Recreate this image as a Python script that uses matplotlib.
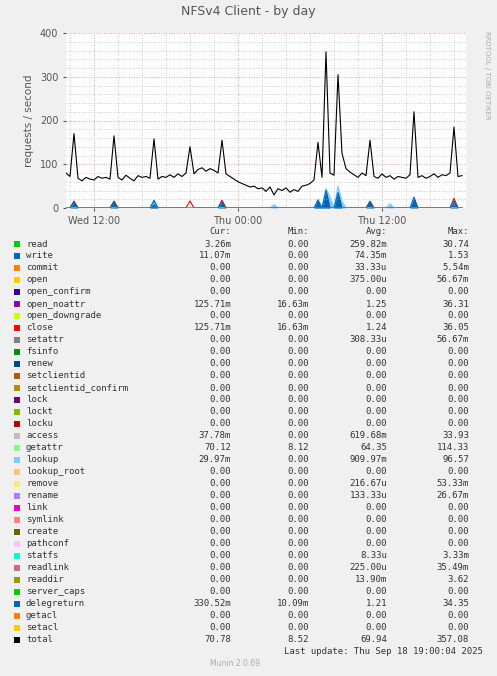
import numpy as np
import matplotlib
matplotlib.use("Agg")
import matplotlib.pyplot as plt

# values sampled every 20 minutes, starting ~Wed 09:40
total = [80, 72, 170, 68, 62, 70, 66, 64, 72, 68,
         70, 66, 165, 70, 64, 75, 68, 62, 74, 70,
         72, 68, 158, 66, 72, 70, 76, 70, 78, 72,
         80, 140, 78, 88, 92, 84, 90, 86, 80, 155,
         78, 72, 66, 60, 56, 52, 48, 50, 44, 46,
         38, 48, 30, 44, 40, 46, 36, 42, 38, 50,
         52, 56, 64, 150, 70, 357, 80, 75, 305, 125,
         90, 82, 76, 70, 80, 74, 155, 72, 68, 78,
         70, 74, 66, 72, 70, 68, 76, 220, 70, 74,
         68, 72, 78, 70, 76, 74, 80, 185, 72, 74]
delegreturn_spikes = {2: 14, 12: 16, 22: 18, 39: 14, 63: 18, 65: 40, 68: 35, 76: 16, 87: 25, 97: 16}
lookup_spikes = {22: 12, 63: 20, 65: 45, 66: 25, 68: 50, 69: 15, 52: 8, 81: 10}
close_spikes = {2: 16, 12: 14, 31: 16, 39: 18, 76: 12, 97: 22}

names = ["read", "write", "commit", "open", "open_confirm", "open_noattr", "open_downgrade",
         "close", "setattr", "fsinfo", "renew", "setclientid", "setclientid_confirm", "lock",
         "lockt", "locku", "access", "getattr", "lookup", "lookup_root", "remove", "rename",
         "link", "symlink", "create", "pathconf", "statfs", "readlink", "readdir",
         "server_caps", "delegreturn", "getacl", "setacl", "total"]
colors = ["#00CC00", "#0066B3", "#FF8000", "#FFCC00", "#330099", "#990099", "#CCFF00",
          "#FF0000", "#808080", "#008F00", "#00487D", "#B35A00", "#B38F00", "#6B006B",
          "#8FB300", "#B30000", "#BEBEBE", "#80FF80", "#80C9FF", "#FFC080", "#FFE680",
          "#AA80FF", "#EE00CC", "#FF8080", "#666600", "#FFBFFF", "#00FFCC", "#CC6699",
          "#999900", "#00CC00", "#0066B3", "#FF8000", "#FFCC00", "#000000"]
cur = ["3.26m", "11.07m", "0.00", "0.00", "0.00", "125.71m", "0.00", "125.71m", "0.00", "0.00",
       "0.00", "0.00", "0.00", "0.00", "0.00", "0.00", "37.78m", "70.12", "29.97m", "0.00",
       "0.00", "0.00", "0.00", "0.00", "0.00", "0.00", "0.00", "0.00", "0.00", "0.00",
       "330.52m", "0.00", "0.00", "70.78"]
mins = ["0.00"] * 34
mins[5] = "16.63m"; mins[7] = "16.63m"; mins[17] = "8.12"; mins[30] = "10.09m"; mins[33] = "8.52"
avg = ["259.82m", "74.35m", "33.33u", "375.00u", "0.00", "1.25", "0.00", "1.24", "308.33u",
       "0.00", "0.00", "0.00", "0.00", "0.00", "0.00", "0.00", "619.68m", "64.35", "909.97m",
       "0.00", "216.67u", "133.33u", "0.00", "0.00", "0.00", "0.00", "8.33u", "225.00u",
       "13.90m", "0.00", "1.21", "0.00", "0.00", "69.94"]
maxs = ["30.74", "1.53", "5.54m", "56.67m", "0.00", "36.31", "0.00", "36.05", "56.67m", "0.00",
        "0.00", "0.00", "0.00", "0.00", "0.00", "0.00", "33.93", "114.33", "96.57", "0.00",
        "53.33m", "26.67m", "0.00", "0.00", "0.00", "0.00", "3.33m", "35.49m", "3.62", "0.00",
        "34.35", "0.00", "0.00", "357.08"]

W, H = 497, 676
fig = plt.figure(figsize=(W / 100, H / 100), dpi=100, facecolor="#F0F0F0")
ax = fig.add_axes([66 / W, 1 - 208 / H, 400 / W, 175 / H], facecolor="white")

n = len(total)
t = np.arange(n) / 3.0  # hours from start


def sparse(d):
    v = np.zeros(n)
    for k, val in d.items():
        v[k] = val
    return v


ax.fill_between(t, sparse(lookup_spikes), color="#80C9FF", lw=0)
ax.plot(t, sparse(lookup_spikes), color="#80C9FF", lw=0.8)
ax.plot(t, sparse(close_spikes), color="#FF0000", lw=0.8)
ax.fill_between(t, sparse(delegreturn_spikes), color="#0066B3", lw=0)
ax.plot(t, sparse(delegreturn_spikes), color="#0066B3", lw=0.8)
ax.axhline(0, color="#FFCC00", lw=1)
ax.plot(t, total, color="black", lw=0.8)

xmax = 400 / 12.0
ax.set_xlim(0, xmax)
ax.set_ylim(0, 400)
tick0 = 28 / 12.0
ax.set_xticks([tick0, tick0 + 12, tick0 + 24])
ax.set_xticklabels(["Wed 12:00", "Thu 00:00", "Thu 12:00"])
ax.set_xticks(np.arange(tick0 - 2, xmax, 2), minor=True)
ax.set_yticks([0, 100, 200, 300, 400])
ax.set_yticks(np.arange(0, 401, 20), minor=True)
ax.grid(True, which="minor", color="#BBBBBB", ls=(0, (1, 2)), lw=0.6)
ax.grid(True, which="major", color="#E08080", ls=(0, (1, 2)), lw=0.6)
ax.tick_params(labelsize=7, colors="#555555", length=2)
ax.tick_params(which="minor", length=0)
for s in ax.spines.values():
    s.set_visible(False)
ax.set_ylabel("requests / second", fontsize=7.5, color="#555555")

fig.text(0.5, 1 - 12 / H, "NFSv4 Client - by day", ha="center", va="center", fontsize=9, color="#555555")
fig.text(487 / W, 1 - 75 / H, "RRDTOOL / TOBI OETIKER", rotation=270, ha="center", va="center",
         fontsize=5, color="#AAAAAA")

mono = dict(family="DejaVu Sans Mono", fontsize=6.5, color="#333333", va="center")
y0 = 232
fig.text(231 / W, 1 - y0 / H, "Cur:", ha="right", **mono)
fig.text(309 / W, 1 - y0 / H, "Min:", ha="right", **mono)
fig.text(387 / W, 1 - y0 / H, "Avg:", ha="right", **mono)
fig.text(469 / W, 1 - y0 / H, "Max:", ha="right", **mono)
for i, name in enumerate(names):
    y = 1 - (244 + 12 * i) / H
    fig.patches.append(plt.Rectangle((14 / W, y - 3 / H), 6 / W, 6 / H, transform=fig.transFigure,
                                     facecolor=colors[i], edgecolor="none"))
    fig.text(26 / W, y, name, ha="left", **mono)
    fig.text(231 / W, y, cur[i], ha="right", **mono)
    fig.text(309 / W, y, mins[i], ha="right", **mono)
    fig.text(387 / W, y, avg[i], ha="right", **mono)
    fig.text(469 / W, y, maxs[i], ha="right", **mono)
fig.text(483 / W, 1 - 652 / H, "Last update: Thu Sep 18 19:00:04 2025", ha="right", **mono)
fig.text(235 / W, 1 - 664 / H, "Munin 2.0.69", ha="center", va="center", fontsize=5.5, color="#AAAAAA")

fig.savefig("out.png", dpi=100, facecolor=fig.get_facecolor())
